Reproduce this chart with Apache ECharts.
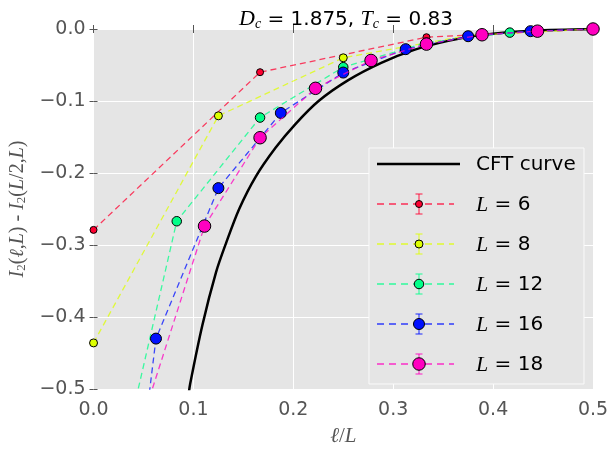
<!DOCTYPE html>
<html>
<head>
<meta charset="utf-8">
<script src="https://cdn.jsdelivr.net/npm/echarts@6/dist/echarts.min.js"></script>
<style>
  html, body { margin: 0; padding: 0; background: #fff; }
  #chart { width: 614px; height: 452px; }
</style>
</head>
<body>
<div id="chart"></div>
<script>
// CFT curve
var xCFT = [0.095, 0.0967, 0.109, 0.1226, 0.1325, 0.1458, 0.1624, 0.1822, 0.2021, 0.2253, 0.255, 0.288, 0.321, 0.355, 0.388, 0.44, 0.5];
var yCFT = [-0.51, -0.493, -0.411, -0.338, -0.298, -0.250, -0.205, -0.165, -0.132, -0.100, -0.071, -0.047, -0.029, -0.0165, -0.0085, -0.0025, 0];

// finite size data, x = l/L
var x6 = [0, 0.1667, 0.3333, 0.5];
var y6 = [-0.279, -0.060, -0.0114, 0];
var x8 = [0, 0.125, 0.25, 0.375, 0.5];
var y8 = [-0.436, -0.1206, -0.040, -0.009, 0];
var x12 = [0, 0.0833, 0.1667, 0.25, 0.3333, 0.4167, 0.5];
var y12 = [-0.77, -0.267, -0.123, -0.053, -0.019, -0.005, 0];
var x16 = [0, 0.0625, 0.125, 0.1875, 0.25, 0.3125, 0.375, 0.4375, 0.5];
var y16 = [-1.14, -0.430, -0.221, -0.1166, -0.0605, -0.028, -0.0100, -0.003, 0];
var x18 = [0, 0.0556, 0.1111, 0.1667, 0.2222, 0.2778, 0.3333, 0.3889, 0.4444, 0.5];
var y18 = [-1.3, -0.514, -0.2737, -0.151, -0.0824, -0.0437, -0.021, -0.008, -0.003, 0];

var sizes = ['6', '8', '12', '16', '18'];
var xs = [x6, x8, x12, x16, x18];
var ys = [y6, y8, y12, y16, y18];
var colors = ['#ff0030', '#ddff00', '#00ff88', '#0010ff', '#ff00c0'];
var symSizes = [7, 8, 9.5, 11, 12.5];

function zip(a, b) {
    var out = [];
    for (var i = 0; i < a.length; i++) out.push([a[i], b[i]]);
    return out;
}
function fmt(v) {
    if (Math.abs(v) < 1e-9) return '0.0';
    return (v < 0 ? '\u2212' : '') + Math.abs(v).toFixed(1);
}

var chart = echarts.init(document.getElementById('chart'));

var series = [{
    name: 'CFT curve',
    type: 'line',
    data: zip(xCFT, yCFT),
    symbol: 'none',
    smooth: 0.3,
    clip: true,
    lineStyle: { color: '#000', width: 2.5 },
    z: 2
}];
for (var k = 0; k < sizes.length; k++) {
    series.push({
        name: 'L = ' + sizes[k],
        type: 'line',
        data: zip(xs[k], ys[k]),
        symbol: 'circle',
        symbolSize: symSizes[k],
        showAllSymbol: true,
        clip: true,
        itemStyle: { color: colors[k], borderColor: '#000', borderWidth: 1 },
        lineStyle: { color: colors[k], width: 1.3, type: [6, 4], opacity: 0.75 },
        z: 3 + k
    });
}

// legend box drawn by hand (line + error bar + marker)
var lg = [];
var boxX = 369, boxY = 148, rowY0 = 164, rowGap = 40;
lg.push({ type: 'rect', shape: { x: boxX, y: boxY, width: 215, height: 236 },
    style: { fill: '#e5e5e5', stroke: '#fafafa', lineWidth: 1 }, z: 100 });
lg.push({ type: 'line', shape: { x1: 377, y1: rowY0, x2: 460, y2: rowY0 },
    style: { stroke: '#000', lineWidth: 2.5 }, z: 101 });
lg.push({ type: 'text', left: 476, top: rowY0 - 9,
    style: { text: 'CFT curve', fontSize: 20, fontFamily: 'DejaVu Sans', fill: '#000' }, z: 101 });
for (var j = 0; j < sizes.length; j++) {
    var yy = rowY0 + rowGap * (j + 1);
    lg.push({ type: 'line', shape: { x1: 377, y1: yy, x2: 454, y2: yy },
        style: { stroke: colors[j], lineWidth: 2, lineDash: [7, 5], opacity: 0.6 }, z: 101 });
    lg.push({ type: 'line', shape: { x1: 419, y1: yy - 10, x2: 419, y2: yy + 10 },
        style: { stroke: colors[j], lineWidth: 1.5, opacity: 0.6 }, z: 101 });
    lg.push({ type: 'line', shape: { x1: 415.5, y1: yy - 10, x2: 422.5, y2: yy - 10 },
        style: { stroke: colors[j], lineWidth: 1.5, opacity: 0.6 }, z: 101 });
    lg.push({ type: 'line', shape: { x1: 415.5, y1: yy + 10, x2: 422.5, y2: yy + 10 },
        style: { stroke: colors[j], lineWidth: 1.5, opacity: 0.6 }, z: 101 });
    lg.push({ type: 'circle', shape: { cx: 419, cy: yy, r: symSizes[j] / 2 },
        style: { fill: colors[j], stroke: '#000', lineWidth: 1 }, z: 102 });
    lg.push({ type: 'text', left: 476, top: yy - 10,
        style: {
            text: '{i|L} = ' + sizes[j],
            fontSize: 20, fontFamily: 'DejaVu Sans', fill: '#000',
            rich: { i: { fontFamily: 'Liberation Serif', fontStyle: 'italic', fontSize: 22 } }
        }, z: 101 });
}

var ticksStyle = { show: true, inside: false, length: 4, lineStyle: { color: '#555', width: 1 } };

chart.setOption({
    animation: false,
    backgroundColor: '#fff',
    title: {
        text: '{i|D}{s|c} = 1.875, {i|T}{s|c} = 0.83',
        left: 341,
        top: 3,
        textAlign: 'center',
        textStyle: {
            fontSize: 20, fontWeight: 'normal', fontFamily: 'DejaVu Sans', color: '#000',
            rich: {
                i: { fontFamily: 'Liberation Serif', fontStyle: 'italic', fontSize: 22 },
                s: { fontFamily: 'Liberation Serif', fontStyle: 'italic', fontSize: 14, padding: [9, 0, 0, 0] }
            }
        }
    },
    grid: {
        left: 90, right: 21, top: 29, bottom: 57,
        show: true, backgroundColor: '#e5e5e5', borderWidth: 0
    },
    xAxis: [{
        type: 'value', min: 0, max: 0.5, interval: 0.1,
        name: '{i|\u2113}{n|/}{i|L}',
        nameLocation: 'middle', nameGap: 37,
        nameTextStyle: {
            color: '#555', fontSize: 20,
            rich: {
                i: { fontFamily: 'Liberation Serif', fontStyle: 'italic', fontSize: 21, color: '#555' },
                n: { fontFamily: 'Liberation Serif', fontSize: 21, color: '#555' }
            }
        },
        axisLine: { show: false },
        axisTick: ticksStyle,
        axisLabel: { margin: 12, fontSize: 19, color: '#555', fontFamily: 'DejaVu Sans', formatter: fmt },
        splitLine: { show: true, lineStyle: { color: '#fff', width: 1 } }
    }, {
        type: 'value', min: 0, max: 0.5, interval: 0.1, position: 'top',
        axisLine: { show: false }, axisTick: ticksStyle,
        axisLabel: { show: false }, splitLine: { show: false }
    }],
    yAxis: [{
        type: 'value', min: -0.5, max: 0, interval: 0.1,
        name: '{i|I}{s|2}{n|(}{i|\u2113}{n|,}{i|L}{n|) - }{i|I}{s|2}{n|(}{i|L}{n|/2,}{i|L}{n|)}',
        nameLocation: 'middle', nameRotate: 90, nameGap: 60,
        nameTextStyle: {
            color: '#555', fontSize: 19,
            rich: {
                i: { fontFamily: 'Liberation Serif', fontStyle: 'italic', fontSize: 20, color: '#555' },
                n: { fontFamily: 'Liberation Serif', fontSize: 20, color: '#555' },
                s: { fontFamily: 'Liberation Serif', fontSize: 13, color: '#555', padding: [8, 0, 0, 0] }
            }
        },
        axisLine: { show: false },
        axisTick: ticksStyle,
        axisLabel: { margin: 8, fontSize: 19, color: '#555', fontFamily: 'DejaVu Sans', formatter: fmt },
        splitLine: { show: true, lineStyle: { color: '#fff', width: 1 } }
    }, {
        type: 'value', min: -0.5, max: 0, interval: 0.1, position: 'right',
        axisLine: { show: false }, axisTick: ticksStyle,
        axisLabel: { show: false }, splitLine: { show: false }
    }],
    series: series,
    graphic: lg
});
</script>
</body>
</html>
